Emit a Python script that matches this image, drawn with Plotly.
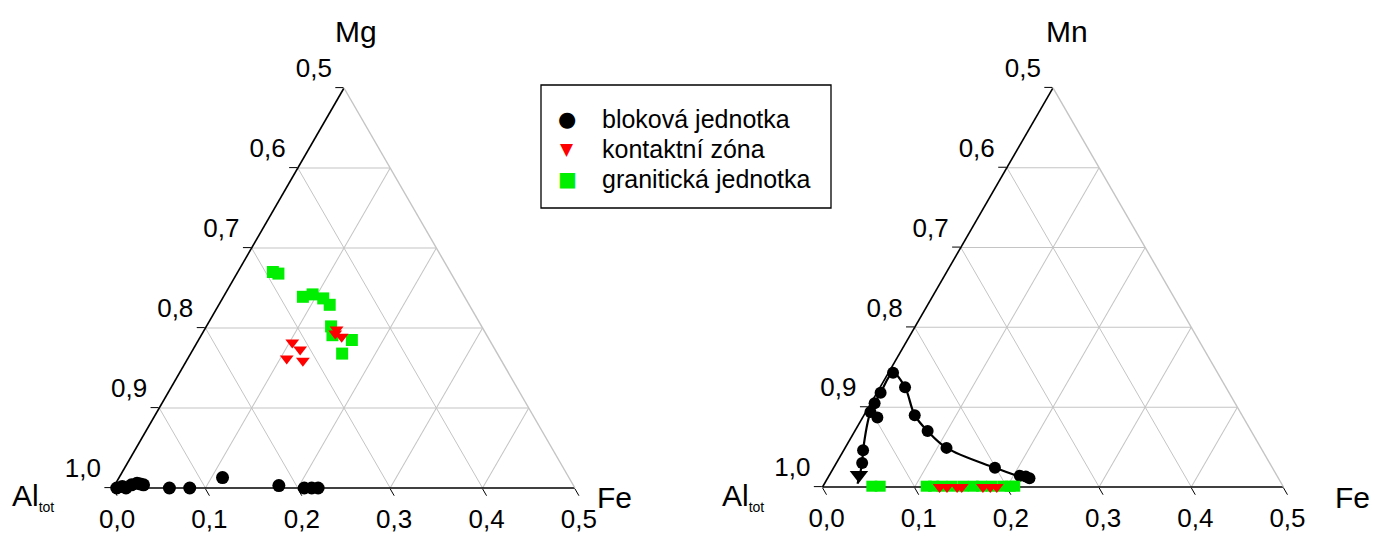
import plotly.graph_objects as go

FONT = "Arial, Liberation Sans, sans-serif"
GRID = "#c4c4c4"

# ---- Mg – Al_tot – Fe diagram (left), values as fractions ----
blok_mg = [0.000, 0.002, 0.000, 0.004, 0.006, 0.005, 0.004, 0.000, 0.000, 0.013, 0.003, 0.000, 0.000, 0.000]
blok_fe = [0.004, 0.009, 0.014, 0.018, 0.023, 0.027, 0.031, 0.061, 0.083, 0.112, 0.178, 0.207, 0.215, 0.222]

kont_mg = [0.182, 0.173, 0.162, 0.159, 0.198, 0.189, 0.193]
kont_fe = [0.103, 0.116, 0.107, 0.126, 0.143, 0.153, 0.144]

gran_mg = [0.270, 0.268, 0.239, 0.242, 0.237, 0.229, 0.202, 0.191, 0.185, 0.168]
gran_fe = [0.038, 0.045, 0.086, 0.095, 0.109, 0.120, 0.135, 0.142, 0.166, 0.164]

# ---- Mn – Al_tot – Fe diagram (right) ----
blok2_mn = [0.143, 0.125, 0.118, 0.105, 0.094, 0.087, 0.090, 0.070, 0.049, 0.046, 0.030, 0.024, 0.014, 0.013, 0.011]
blok2_fe = [0.005, 0.027, 0.004, 0.004, 0.005, 0.016, 0.055, 0.079, 0.110, 0.021, 0.028, 0.175, 0.207, 0.214, 0.219]

kont2_mn = [0.000, 0.000, 0.000, 0.000, 0.000, 0.000, 0.000]
kont2_fe = [0.127, 0.135, 0.146, 0.151, 0.174, 0.182, 0.189]

gran2_mn = [0.001, 0.001, 0.001, 0.001, 0.001, 0.001, 0.001, 0.001, 0.001, 0.001, 0.001, 0.001, 0.001]
gran2_fe = [0.053, 0.062, 0.112, 0.120, 0.129, 0.140, 0.152, 0.163, 0.172, 0.183, 0.195, 0.203, 0.208]

# trend curve through the bloková jednotka points (Mn diagram), ends in an arrow
trend_mn = [0.008, 0.024, 0.049, 0.070, 0.090, 0.125, 0.143, 0.118, 0.094, 0.046, 0.030, 0.004]
trend_fe = [0.222, 0.175, 0.110, 0.079, 0.055, 0.027, 0.005, 0.004, 0.005, 0.021, 0.028, 0.036]
arrow_mn = [0.015]
arrow_fe = [0.032]

# axis ticks (a blank second line lifts each left-edge label above its tick)
a_vals = [0.0, 0.1, 0.2, 0.3, 0.4, 0.5]
a_text = [t + "<br> " for t in ["1,0", "0,9", "0,8", "0,7", "0,6", "0,5"]]
b_vals = [1.0, 0.9, 0.8, 0.7, 0.6, 0.5]
b_text = ["0,0", "0,1", "0,2", "0,3", "0,4", "0,5"]
c_vals = [0.1, 0.2, 0.3, 0.4]

# name, symbol, colour, marker size, legend glyph, glyph size
BLOK = ("bloková jednotka", "circle", "black", 13, "●", 21)
KONT = ("kontaktní zóna", "triangle-down", "#ff0000", 12, "▼", 17)
GRAN = ("granitická jednotka", "square", "#00ee00", 12, "■", 20)
legend_order = [BLOK, KONT, GRAN]


def closure(top, fe):
    return [round(1 - t - f, 4) for t, f in zip(top, fe)]


def ternary(dx, dy):
    tf = dict(family=FONT, size=26, color="black")
    common = dict(gridcolor=GRID, gridwidth=1.4, layer="below traces",
                  title=dict(text=""))
    return dict(
        sum=1,
        bgcolor="white",
        domain=dict(x=dx, y=dy),
        aaxis=dict(min=0, tickmode="array", tickvals=a_vals, ticktext=a_text,
                   ticks="outside", ticklen=8, tickcolor="black", tickwidth=1.3,
                   linecolor="black", linewidth=1.6, tickfont=tf, **common),
        baxis=dict(min=0.5, tickmode="array", tickvals=b_vals, ticktext=b_text,
                   ticks="outside", ticklen=8, tickcolor="black", tickwidth=1.3,
                   linecolor="black", linewidth=1.6, tickfont=tf, **common),
        caxis=dict(min=0, tickmode="array", tickvals=c_vals, showticklabels=False,
                   ticks="", linecolor=GRID, linewidth=1.4, **common),
    )


W, H = 1387, 534
fig = go.Figure()


def add_points(spec, top, fe, subplot, shrink=0):
    name, sym, col, size = spec[:4]
    fig.add_trace(go.Scatterternary(
        a=top, b=closure(top, fe), c=fe, mode="markers", name=name,
        subplot=subplot, showlegend=False, cliponaxis=False,
        marker=dict(symbol=sym, color=col, size=size - shrink, line=dict(width=0))))


# left diagram (red triangles drawn last, on top of the green squares)
add_points(BLOK, blok_mg, blok_fe, "ternary")
add_points(GRAN, gran_mg, gran_fe, "ternary")
add_points(KONT, kont_mg, kont_fe, "ternary")

# right diagram
fig.add_trace(go.Scatterternary(
    a=trend_mn, b=closure(trend_mn, trend_fe), c=trend_fe, mode="lines",
    subplot="ternary2", showlegend=False, cliponaxis=False,
    line=dict(color="black", width=2.2, shape="spline", smoothing=1)))
fig.add_trace(go.Scatterternary(
    a=arrow_mn, b=closure(arrow_mn, arrow_fe), c=arrow_fe, mode="markers",
    subplot="ternary2", showlegend=False, cliponaxis=False,
    marker=dict(symbol="triangle-down", color="black", size=16, line=dict(width=0))))
add_points(BLOK, blok2_mn, blok2_fe, "ternary2", 1)
add_points(GRAN, gran2_mn, gran2_fe, "ternary2", 1)
add_points(KONT, kont2_mn, kont2_fe, "ternary2", 0)


def px(x):
    return x / W


def py(y):
    return 1 - y / H


fig.update_layout(
    width=W, height=H,
    margin=dict(l=0, r=0, t=0, b=0),
    paper_bgcolor="white",
    font=dict(family=FONT, color="black"),
    ternary=ternary([px(113), px(575)], [py(488), py(88)]),
    ternary2=ternary([px(822.5), px(1283.5)], [py(487), py(87.8)]),
    showlegend=False,
)

# legend box
fig.add_shape(type="rect", xref="paper", yref="paper",
              x0=px(541), x1=px(831), y0=py(208), y1=py(85),
              line=dict(color="black", width=1.3), fillcolor="white")
for i, (name, _s, col, _z, glyph, gsize) in enumerate(legend_order):
    y = 119 + 30 * i
    fig.add_annotation(text=glyph, x=px(567), y=py(y), xref="paper", yref="paper",
                       xanchor="center", yanchor="middle", showarrow=False,
                       font=dict(family="DejaVu Sans", size=gsize, color=col))
    fig.add_annotation(text=name, x=px(600), y=py(y), xref="paper", yref="paper",
                       xanchor="left", yanchor="middle", showarrow=False,
                       font=dict(family=FONT, size=25, color="black"))

corner = dict(family=FONT, size=30, color="black")
labels = [
    ("Mg", 356, 31, "center"),
    ("Mn", 1067, 31, "center"),
    ("Fe", 614, 497, "center"),
    ("Fe", 1352, 497, "center"),
    ("Al<sub><span style='font-size:14px'>tot</span></sub>", 10, 497, "left"),
    ("Al<sub><span style='font-size:14px'>tot</span></sub>", 720, 497, "left"),
]
for text, x, y, anchor in labels:
    fig.add_annotation(text=text, x=px(x), y=py(y), xref="paper", yref="paper",
                       xanchor=anchor, yanchor="middle", showarrow=False, font=corner)

fig.write_html("out.html")
